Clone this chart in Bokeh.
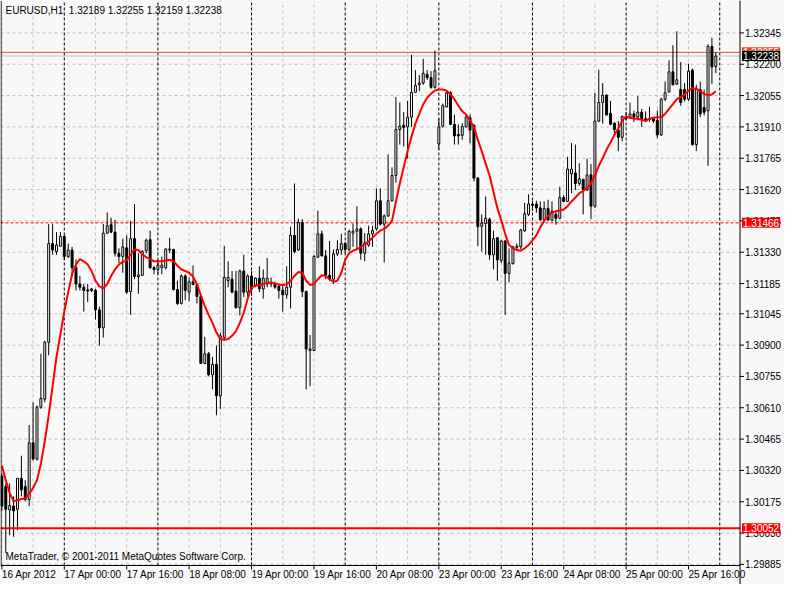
import math
from bokeh.plotting import figure
from bokeh.models import ColumnDataSource, Range1d, Label
from bokeh.core.properties import value
from bokeh.embed import file_html
from bokeh.resources import INLINE

# ---------------- data ----------------
symbol = "EURUSD,H1"
last_ohlc = [1.32189, 1.32255, 1.32159, 1.32238]

open_ = [1.30293, 1.30245, 1.30137, 1.30155, 1.30140, 1.30283, 1.30245, 1.30185, 1.30448, 1.30373,
         1.30613, 1.30650, 1.30913, 1.31370, 1.31333, 1.31358, 1.31403, 1.31310, 1.31340, 1.31258,
         1.31183, 1.31168, 1.31155, 1.31160, 1.31153, 1.31063, 1.30980, 1.31418, 1.31457, 1.31423,
         1.31325, 1.31310, 1.31350, 1.31148, 1.31393, 1.31217, 1.31223, 1.31337, 1.31388, 1.31258,
         1.31250, 1.31258, 1.31258, 1.31340, 1.31343, 1.31157, 1.31093, 1.31220, 1.31145, 1.31193,
         1.31180, 1.31125, 1.30815, 1.30860, 1.30763, 1.30810, 1.30665, 1.30935, 1.31198, 1.31205,
         1.31150, 1.31073, 1.31243, 1.31145, 1.31220, 1.31178, 1.31210, 1.31160, 1.31183, 1.31190,
         1.31183, 1.31172, 1.31153, 1.31133, 1.31168, 1.31408, 1.31340, 1.31468, 1.31148, 1.30875,
         1.30875, 1.31307, 1.31415, 1.31313, 1.31223, 1.31205, 1.31322, 1.31340, 1.31370, 1.31343,
         1.31418, 1.31427, 1.31438, 1.31325, 1.31363, 1.31415, 1.31438, 1.31568, 1.31460, 1.31498,
         1.31568, 1.31685, 1.31898, 1.31918, 1.31910, 1.31955, 1.32070, 1.32105, 1.32113, 1.32153,
         1.32138, 1.32093, 1.31832, 1.31913, 1.32003, 1.32068, 1.31922, 1.31875, 1.31871, 1.31910,
         1.31952, 1.31918, 1.31673, 1.31450, 1.31463, 1.31483, 1.31318, 1.31397, 1.31292, 1.31382,
         1.31232, 1.31277, 1.31352, 1.31355, 1.31430, 1.31505, 1.31553, 1.31553, 1.31535, 1.31480,
         1.31532, 1.31478, 1.31505, 1.31487, 1.31583, 1.31565, 1.31693, 1.31697, 1.31648, 1.31667,
         1.31618, 1.31688, 1.31543, 1.31937, 1.32023, 1.32057, 1.31973, 1.31928, 1.31895, 1.31862,
         1.31958, 1.31955, 1.31970, 1.31955, 1.31978, 1.31948, 1.31943, 1.31948, 1.31940, 1.31873,
         1.32038, 1.32072, 1.32165, 1.32108, 1.32083, 1.32083, 1.32038, 1.32173, 1.31828, 1.32083,
         1.32000, 1.31985, 1.32282, 1.32189]

high = [1.30305, 1.30260, 1.30260, 1.30200, 1.30283, 1.30388, 1.30275, 1.30530, 1.30635, 1.30620,
        1.30860, 1.30920, 1.31460, 1.31460, 1.31423, 1.31423, 1.31408, 1.31370, 1.31355, 1.31295,
        1.31220, 1.31183, 1.31183, 1.31163, 1.31160, 1.31078, 1.31460, 1.31514, 1.31490, 1.31480,
        1.31348, 1.31393, 1.31408, 1.31475, 1.31553, 1.31325, 1.31340, 1.31393, 1.31430, 1.31265,
        1.31295, 1.31310, 1.31348, 1.31397, 1.31345, 1.31198, 1.31228, 1.31228, 1.31213, 1.31268,
        1.31183, 1.31130, 1.30938, 1.30868, 1.30845, 1.30898, 1.30958, 1.31360, 1.31288, 1.31243,
        1.31243, 1.31250, 1.31318, 1.31228, 1.31243, 1.31213, 1.31265, 1.31250, 1.31303, 1.31213,
        1.31193, 1.31183, 1.31183, 1.31265, 1.31448, 1.31648, 1.31485, 1.31483, 1.31153, 1.30947,
        1.31318, 1.31523, 1.31430, 1.31340, 1.31382, 1.31343, 1.31385, 1.31415, 1.31378, 1.31433,
        1.31463, 1.31543, 1.31445, 1.31418, 1.31453, 1.31453, 1.31625, 1.31625, 1.31505, 1.31783,
        1.31723, 1.32048, 1.32023, 1.31978, 1.32030, 1.32243, 1.32173, 1.32150, 1.32225, 1.32173,
        1.32168, 1.32263, 1.31948, 1.32018, 1.32075, 1.32075, 1.31967, 1.31922, 1.31928, 1.31970,
        1.31967, 1.31922, 1.31678, 1.31505, 1.31588, 1.31490, 1.31430, 1.31400, 1.31385, 1.31385,
        1.31348, 1.31358, 1.31370, 1.31438, 1.31558, 1.31598, 1.31568, 1.31568, 1.31565, 1.31565,
        1.31573, 1.31565, 1.31520, 1.31633, 1.31595, 1.31772, 1.31835, 1.31828, 1.31742, 1.31670,
        1.31763, 1.31738, 1.32068, 1.32175, 1.32113, 1.32060, 1.32030, 1.31930, 1.31937, 1.31963,
        1.31978, 1.32023, 1.31985, 1.32053, 1.31993, 1.31982, 1.32003, 1.31955, 1.31985, 1.32045,
        1.32120, 1.32218, 1.32288, 1.32353, 1.32210, 1.32113, 1.32203, 1.32180, 1.32105, 1.32120,
        1.32083, 1.32293, 1.32323, 1.32255]

low = [1.30133, 1.29938, 1.30020, 1.30013, 1.30043, 1.30200, 1.30178, 1.30155, 1.30365, 1.30365,
       1.30605, 1.30635, 1.30853, 1.31318, 1.31318, 1.31355, 1.31295, 1.31303, 1.31220, 1.31153,
       1.31153, 1.31055, 1.31100, 1.31145, 1.31018, 1.30898, 1.30935, 1.31415, 1.31418, 1.31310,
       1.31280, 1.31235, 1.31138, 1.31040, 1.31205, 1.31138, 1.31220, 1.31325, 1.31253, 1.31228,
       1.31228, 1.31228, 1.31250, 1.31325, 1.31153, 1.31085, 1.31088, 1.31108, 1.31103, 1.31178,
       1.31093, 1.30812, 1.30812, 1.30755, 1.30695, 1.30575, 1.30605, 1.30920, 1.31168, 1.31140,
       1.31070, 1.31037, 1.31123, 1.31123, 1.31130, 1.31168, 1.31145, 1.31115, 1.31168, 1.31168,
       1.31160, 1.31115, 1.31055, 1.31115, 1.31070, 1.31325, 1.31337, 1.31123, 1.30695, 1.30710,
       1.30872, 1.31303, 1.31310, 1.31205, 1.31198, 1.31183, 1.31313, 1.31318, 1.31325, 1.31333,
       1.31355, 1.31340, 1.31295, 1.31288, 1.31355, 1.31355, 1.31430, 1.31453, 1.31283, 1.31493,
       1.31565, 1.31652, 1.31828, 1.31820, 1.31763, 1.31910, 1.32068, 1.32075, 1.32105, 1.32128,
       1.32087, 1.32087, 1.31805, 1.31907, 1.32000, 1.31918, 1.31828, 1.31828, 1.31850, 1.31907,
       1.31835, 1.31658, 1.31358, 1.31333, 1.31318, 1.31295, 1.31250, 1.31198, 1.31280, 1.31040,
       1.31190, 1.31273, 1.31340, 1.31343, 1.31423, 1.31498, 1.31520, 1.31513, 1.31475, 1.31472,
       1.31475, 1.31472, 1.31457, 1.31483, 1.31562, 1.31562, 1.31603, 1.31618, 1.31637, 1.31505,
       1.31613, 1.31483, 1.31535, 1.31933, 1.31925, 1.31963, 1.31918, 1.31873, 1.31798, 1.31843,
       1.31940, 1.31948, 1.31933, 1.31940, 1.31910, 1.31933, 1.31933, 1.31928, 1.31858, 1.31868,
       1.32030, 1.32068, 1.32102, 1.32105, 1.32008, 1.32027, 1.32030, 1.31823, 1.31798, 1.31955,
       1.31963, 1.31730, 1.32108, 1.32159]

close = [1.30155, 1.30140, 1.30158, 1.30133, 1.30283, 1.30230, 1.30185, 1.30448, 1.30373, 1.30613,
         1.30653, 1.30913, 1.31370, 1.31340, 1.31363, 1.31403, 1.31310, 1.31340, 1.31258, 1.31183,
         1.31168, 1.31153, 1.31150, 1.31153, 1.31063, 1.30980, 1.31418, 1.31453, 1.31423, 1.31325,
         1.31310, 1.31355, 1.31145, 1.31393, 1.31217, 1.31225, 1.31333, 1.31385, 1.31258, 1.31250,
         1.31270, 1.31270, 1.31345, 1.31345, 1.31157, 1.31093, 1.31220, 1.31153, 1.31193, 1.31180,
         1.31125, 1.30815, 1.30860, 1.30763, 1.30810, 1.30665, 1.30943, 1.31213, 1.31213, 1.31145,
         1.31073, 1.31243, 1.31145, 1.31220, 1.31160, 1.31210, 1.31160, 1.31210, 1.31210, 1.31183,
         1.31168, 1.31153, 1.31133, 1.31168, 1.31408, 1.31333, 1.31468, 1.31148, 1.30882, 1.30882,
         1.31310, 1.31415, 1.31313, 1.31223, 1.31205, 1.31322, 1.31343, 1.31370, 1.31343, 1.31427,
         1.31427, 1.31438, 1.31325, 1.31373, 1.31415, 1.31430, 1.31568, 1.31460, 1.31498, 1.31568,
         1.31685, 1.31898, 1.31913, 1.31907, 1.31955, 1.32070, 1.32102, 1.32113, 1.32158, 1.32138,
         1.32093, 1.32170, 1.31910, 1.32008, 1.32068, 1.31922, 1.31868, 1.31868, 1.31913, 1.31955,
         1.31895, 1.31673, 1.31448, 1.31465, 1.31487, 1.31318, 1.31393, 1.31295, 1.31382, 1.31232,
         1.31280, 1.31355, 1.31358, 1.31433, 1.31508, 1.31553, 1.31547, 1.31535, 1.31480, 1.31532,
         1.31480, 1.31520, 1.31487, 1.31583, 1.31565, 1.31715, 1.31715, 1.31648, 1.31670, 1.31618,
         1.31688, 1.31543, 1.31937, 1.32023, 1.32057, 1.31965, 1.31922, 1.31898, 1.31862, 1.31958,
         1.31948, 1.31970, 1.31955, 1.31978, 1.31948, 1.31940, 1.31948, 1.31937, 1.31873, 1.32038,
         1.32068, 1.32165, 1.32105, 1.32128, 1.32023, 1.32038, 1.32168, 1.31828, 1.32083, 1.31970,
         1.31978, 1.32282, 1.32188, 1.32238]

ma = [1.30343, 1.30275, 1.30215, 1.30178, 1.30182, 1.30188, 1.30190, 1.30212, 1.30238, 1.30275,
      1.30350, 1.30455, 1.30575, 1.30710, 1.30845, 1.30950, 1.31055, 1.31145, 1.31228, 1.31273,
      1.31298, 1.31288, 1.31273, 1.31243, 1.31198, 1.31172, 1.31163, 1.31183, 1.31220, 1.31250,
      1.31273, 1.31285, 1.31292, 1.31318, 1.31343, 1.31340, 1.31320, 1.31307, 1.31298, 1.31288,
      1.31288, 1.31288, 1.31292, 1.31295, 1.31288, 1.31268, 1.31250, 1.31243, 1.31235, 1.31217,
      1.31183, 1.31130, 1.31082, 1.31040, 1.31003, 1.30958, 1.30928, 1.30925, 1.30928, 1.30943,
      1.30965, 1.31003, 1.31050, 1.31115, 1.31168, 1.31175, 1.31178, 1.31183, 1.31187, 1.31190,
      1.31185, 1.31181, 1.31178, 1.31181, 1.31198, 1.31220, 1.31238, 1.31235, 1.31198, 1.31178,
      1.31183, 1.31205, 1.31223, 1.31220, 1.31205, 1.31193, 1.31198, 1.31235, 1.31295, 1.31325,
      1.31337, 1.31343, 1.31355, 1.31367, 1.31380, 1.31397, 1.31415, 1.31430, 1.31438, 1.31453,
      1.31475, 1.31565, 1.31648, 1.31723, 1.31798, 1.31865, 1.31925, 1.31970, 1.32015, 1.32045,
      1.32063, 1.32078, 1.32083, 1.32083, 1.32078, 1.32060, 1.32038, 1.32008, 1.31982, 1.31967,
      1.31940, 1.31910, 1.31850, 1.31798, 1.31740, 1.31685, 1.31610, 1.31535, 1.31478, 1.31415,
      1.31363, 1.31348, 1.31340, 1.31337, 1.31348, 1.31363, 1.31385, 1.31408, 1.31445, 1.31475,
      1.31498, 1.31513, 1.31520, 1.31523, 1.31528, 1.31543, 1.31565, 1.31583, 1.31603, 1.31613,
      1.31628, 1.31648, 1.31685, 1.31730, 1.31765, 1.31805, 1.31838, 1.31873, 1.31903, 1.31940,
      1.31958, 1.31952, 1.31948, 1.31948, 1.31943, 1.31937, 1.31948, 1.31952, 1.31955, 1.31955,
      1.31970, 1.31993, 1.32015, 1.32038, 1.32048, 1.32060, 1.32078, 1.32090, 1.32087, 1.32075,
      1.32063, 1.32057, 1.32060, 1.32075]

x_tick_bars = [0, 16, 32, 48, 64, 80, 96, 112, 128, 144, 160, 176]
x_tick_labels = ["16 Apr 2012", "17 Apr 00:00", "17 Apr 16:00", "18 Apr 08:00",
                 "19 Apr 00:00", "19 Apr 16:00", "20 Apr 08:00", "23 Apr 00:00",
                 "23 Apr 16:00", "24 Apr 08:00", "25 Apr 00:00", "25 Apr 16:00"]
day_separators = [16, 40, 64, 88, 112, 136, 160, 184]
grid_bars = [0, 8, 24, 32, 48, 56, 72, 80, 96, 104, 120, 128, 144, 152, 168, 176]
y_ticks = [1.32345, 1.32200, 1.32055, 1.31910, 1.31765, 1.31620, 1.31475, 1.31330,
           1.31185, 1.31045, 1.30900, 1.30755, 1.30610, 1.30465, 1.30320, 1.30175,
           1.30030, 1.29885]
bid_price = 1.32238
ask_price = 1.32255
support_level = 1.30052
dashed_level = 1.31466
copyright_text = "MetaTrader, \u00a9 2001-2011 MetaQuotes Software Corp."

# ---------------- layout of the chart window (in bar / price units) ----------------
x_lo, x_hi = -0.35, 200.6          # whole window width
y_lo, y_hi = 1.29792, 1.32495      # whole window height
PRICE_SCALE_AT = 189.2             # x of the right price scale line
TIME_SCALE_AT = 1.29880            # y of the bottom time scale line

BG = "#F8F8F8"
GRID = "#C0C0C0"
FONT = "Liberation Sans"
FS = "10px"

bars = list(range(len(close)))
src = ColumnDataSource(dict(
    x=bars, open=open_, high=high, low=low, close=close,
    top=[max(o, c) for o, c in zip(open_, close)],
    bottom=[min(o, c) for o, c in zip(open_, close)],
    fill=["white" if c >= o else "black" for o, c in zip(open_, close)],
))

p = figure(width=784, height=584, output_backend="svg", toolbar_location=None,
           x_range=Range1d(x_lo, x_hi), y_range=Range1d(y_lo, y_hi),
           x_axis_location=None, y_axis_location=None,
           min_border=0, background_fill_color=BG, border_fill_color=BG)
p.outline_line_color = None
p.xgrid.visible = False
p.ygrid.visible = False

ny, nx = len(y_ticks), len(x_tick_bars)

# grid (dotted gray), only inside the chart area
p.segment(x0=[x_lo] * ny, y0=y_ticks, x1=[PRICE_SCALE_AT] * ny, y1=y_ticks,
          line_color=GRID, line_dash="3 3", line_width=1)
p.segment(x0=grid_bars, y0=[TIME_SCALE_AT] * len(grid_bars), x1=grid_bars,
          y1=[y_hi] * len(grid_bars), line_color=GRID, line_dash="3 3", line_width=1)
# period separators (black dashed)
p.segment(x0=day_separators, y0=[TIME_SCALE_AT] * len(day_separators), x1=day_separators,
          y1=[y_hi] * len(day_separators), line_color="black", line_dash="3 2", line_width=1)

# horizontal price lines
p.segment(x0=[x_lo], y0=[dashed_level], x1=[PRICE_SCALE_AT], y1=[dashed_level],
          line_color="#FF0000", line_dash="3 2", line_width=1)
p.segment(x0=[x_lo], y0=[bid_price], x1=[PRICE_SCALE_AT], y1=[bid_price],
          line_color=GRID, line_width=1)
p.segment(x0=[x_lo], y0=[ask_price], x1=[PRICE_SCALE_AT], y1=[ask_price],
          line_color="#E0502A", line_width=1)

# candles
p.segment(x0="x", y0="low", x1="x", y1="high", source=src, line_color="black", line_width=1)
p.vbar(x="x", width=0.5, top="top", bottom="bottom", source=src,
       fill_color="fill", line_color="black", line_width=1)

# moving average
p.line(bars, ma, line_color="#FF0000", line_width=2)

# support line
p.segment(x0=[x_lo], y0=[support_level], x1=[PRICE_SCALE_AT], y1=[support_level],
          line_color="#FF0000", line_width=2)

# window border and scale lines
p.segment(x0=[-0.2], y0=[TIME_SCALE_AT], x1=[-0.2], y1=[y_hi], line_color="black", line_width=1)
p.segment(x0=[PRICE_SCALE_AT], y0=[y_lo], x1=[PRICE_SCALE_AT], y1=[y_hi],
          line_color="black", line_width=1)
p.segment(x0=[x_lo], y0=[TIME_SCALE_AT], x1=[PRICE_SCALE_AT], y1=[TIME_SCALE_AT],
          line_color="black", line_width=1)

# tick marks
p.ray(x=[PRICE_SCALE_AT] * ny, y=y_ticks, length=4, length_units="screen", angle=0,
      line_color="black", line_width=1)
p.ray(x=x_tick_bars, y=[TIME_SCALE_AT] * nx, length=4, length_units="screen",
      angle=-math.pi / 2, line_color="black", line_width=1)

# tick labels
p.text(x=[PRICE_SCALE_AT] * ny, y=y_ticks, text=[f"{t:.5f}" for t in y_ticks],
       x_offset=5, text_align="left", text_baseline="middle",
       text_font=value(FONT), text_font_size=value(FS), text_color="black")
p.text(x=x_tick_bars, y=[TIME_SCALE_AT] * nx, text=x_tick_labels,
       y_offset=4, text_align="left", text_baseline="top",
       text_font=value(FONT), text_font_size=value(FS), text_color="black")

# price tags on the price scale
def tag(price, color):
    p.add_layout(Label(x=PRICE_SCALE_AT, y=price, x_offset=2, text=f"{price:.5f}",
                       text_align="left", text_baseline="middle",
                       text_font=FONT, text_font_size=FS, text_color="white",
                       background_fill_color=color, padding=1))

tag(ask_price, "#E0502A")
tag(bid_price, "black")
tag(dashed_level, "#FF0000")
tag(support_level, "#FF0000")

# header / footer texts
head = symbol + "\u00a0\u00a0" + " ".join(f"{v:.5f}" for v in last_ohlc)
p.add_layout(Label(x=x_lo, y=y_hi, x_offset=5, y_offset=-4, text=head,
                   text_align="left", text_baseline="top",
                   text_font=FONT, text_font_size=FS, text_color="black"))
p.add_layout(Label(x=x_lo, y=TIME_SCALE_AT, x_offset=5, y_offset=3, text=copyright_text,
                   text_align="left", text_baseline="bottom",
                   text_font=FONT, text_font_size=FS, text_color="black"))

open("out.html", "w").write(file_html(p, INLINE))
